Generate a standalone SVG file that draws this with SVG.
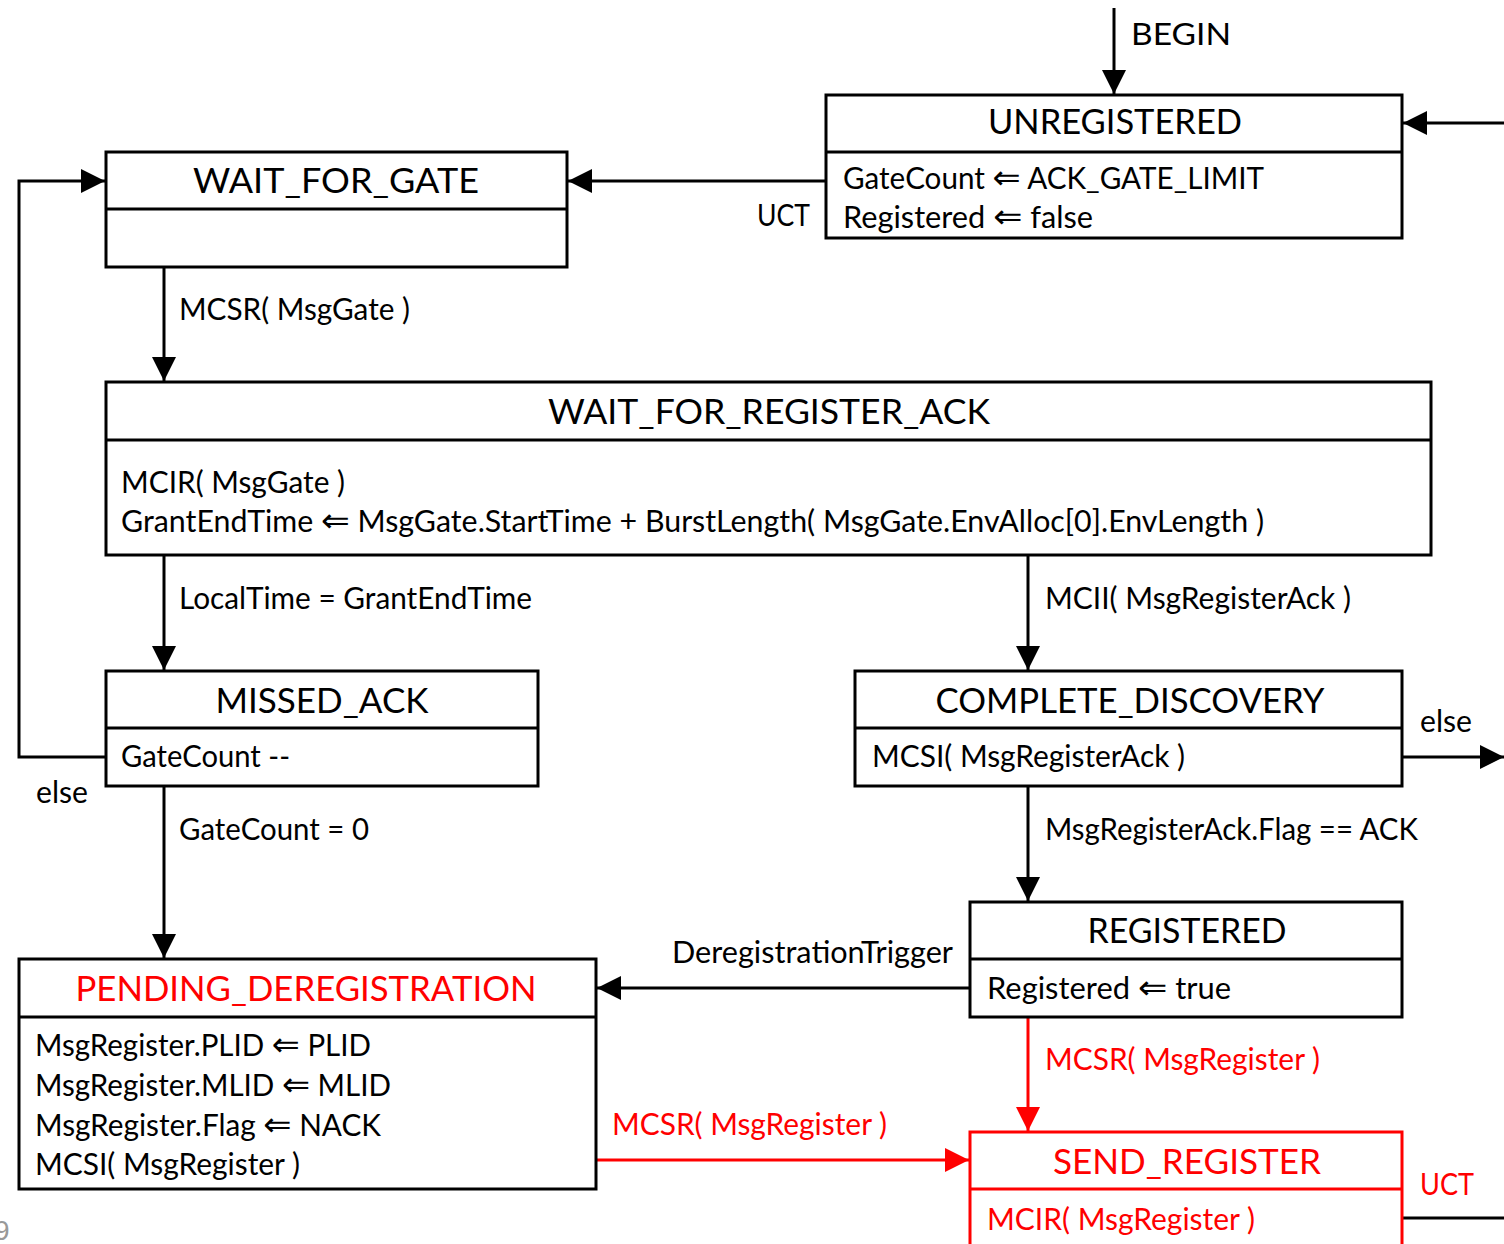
<svg xmlns="http://www.w3.org/2000/svg" width="1504" height="1244" viewBox="0 0 1504 1244">
<style>
  text { font-family: Lato, "Open Sans", "DejaVu Sans", sans-serif; fill: #000; }
  .t { font-size: 34px; text-anchor: middle; }
  .b { font-size: 30px; }
  .ar { font-family: "DejaVu Sans", sans-serif; font-size: 34px; }
  .red { fill: #ff0000; }
  .box { fill: #fff; stroke: #000; stroke-width: 3; }
  .rbox { fill: #fff; stroke: #ff0000; stroke-width: 3; }
  .div { stroke: #000; stroke-width: 3; }
  .rdiv { stroke: #ff0000; stroke-width: 3; }
  .c { fill: none; stroke: #000; stroke-width: 3; }
  .rc { fill: none; stroke: #ff0000; stroke-width: 3; }
</style>
<defs>
  <marker id="ah" viewBox="0 0 24 24" refX="24" refY="12" markerWidth="24" markerHeight="24" markerUnits="userSpaceOnUse" orient="auto">
    <path d="M0,0 L24,12 L0,24 Z" fill="#000"/>
  </marker>
  <marker id="rah" viewBox="0 0 24 24" refX="24" refY="12" markerWidth="24" markerHeight="24" markerUnits="userSpaceOnUse" orient="auto">
    <path d="M0,0 L24,12 L0,24 Z" fill="#ff0000"/>
  </marker>
</defs>
<rect width="1504" height="1244" fill="#fff"/>

<g id="connectors">
  <path class="c" d="M1114,8 V94" marker-end="url(#ah)"/>
  <text class="b" x="1131" y="45" textLength="100" lengthAdjust="spacingAndGlyphs">BEGIN</text>
  <path class="c" d="M1504,123 H1403" marker-end="url(#ah)"/>
  <path class="c" d="M826,181 H568" marker-end="url(#ah)"/>
  <text class="b" x="757" y="226" textLength="53" lengthAdjust="spacingAndGlyphs">UCT</text>
  <path class="c" d="M164,267 V381" marker-end="url(#ah)"/>
  <text class="b" x="179" y="320" textLength="231" lengthAdjust="spacingAndGlyphs">MCSR( MsgGate )</text>
  <path class="c" d="M164,555 V670" marker-end="url(#ah)"/>
  <text class="b" x="179" y="609" textLength="353" lengthAdjust="spacingAndGlyphs">LocalTime = GrantEndTime</text>
  <path class="c" d="M1028,555 V670" marker-end="url(#ah)"/>
  <text class="b" x="1045" y="609" textLength="306" lengthAdjust="spacingAndGlyphs">MCII( MsgRegisterAck )</text>
  <path class="c" d="M106,757 H19 V181 H105" marker-end="url(#ah)"/>
  <text class="b" x="36" y="803" textLength="52" lengthAdjust="spacingAndGlyphs">else</text>
  <path class="c" d="M164,786 V958" marker-end="url(#ah)"/>
  <text class="b" x="179" y="840" textLength="190" lengthAdjust="spacingAndGlyphs">GateCount = 0</text>
  <path class="c" d="M1402,757 H1504" marker-end="url(#ah)"/>
  <text class="b" x="1420" y="732" textLength="52" lengthAdjust="spacingAndGlyphs">else</text>
  <path class="c" d="M1028,786 V901" marker-end="url(#ah)"/>
  <text class="b" x="1045" y="840" textLength="373" lengthAdjust="spacingAndGlyphs">MsgRegisterAck.Flag == ACK</text>
  <path class="c" d="M970,988 H597" marker-end="url(#ah)"/>
  <text class="b" x="672" y="963" textLength="281" lengthAdjust="spacingAndGlyphs">DeregistrationTrigger</text>
  <path class="rc" d="M1028,1017 V1131" marker-end="url(#rah)"/>
  <text class="b red" x="1045" y="1070" textLength="275" lengthAdjust="spacingAndGlyphs">MCSR( MsgRegister )</text>
  <path class="rc" d="M596,1160 H969" marker-end="url(#rah)"/>
  <text class="b red" x="612" y="1135" textLength="275" lengthAdjust="spacingAndGlyphs">MCSR( MsgRegister )</text>
  <path class="c" d="M1402,1218 H1504"/>
  <text class="b red" x="1420" y="1195" textLength="54" lengthAdjust="spacingAndGlyphs">UCT</text>
</g>

<g id="UNREGISTERED">
  <rect class="box" x="826" y="95" width="576" height="143"/>
  <line class="div" x1="826" y1="152" x2="1402" y2="152"/>
  <text class="t" x="1115" y="134" textLength="254" lengthAdjust="spacingAndGlyphs">UNREGISTERED</text>
  <text class="b" x="843" y="189" textLength="421" lengthAdjust="spacingAndGlyphs">GateCount <tspan class="ar">⇐</tspan> ACK_GATE_LIMIT</text>
  <text class="b" x="843" y="228" textLength="250" lengthAdjust="spacingAndGlyphs">Registered <tspan class="ar">⇐</tspan> false</text>
</g>

<g id="WAIT_FOR_GATE">
  <rect class="box" x="106" y="152" width="461" height="115"/>
  <line class="div" x1="106" y1="209" x2="567" y2="209"/>
  <text class="t" x="336" y="193" textLength="286" lengthAdjust="spacingAndGlyphs">WAIT_FOR_GATE</text>
</g>

<g id="WAIT_FOR_REGISTER_ACK">
  <rect class="box" x="106" y="382" width="1325" height="173"/>
  <line class="div" x1="106" y1="440" x2="1431" y2="440"/>
  <text class="t" x="769" y="424" textLength="442" lengthAdjust="spacingAndGlyphs">WAIT_FOR_REGISTER_ACK</text>
  <text class="b" x="121" y="493" textLength="224" lengthAdjust="spacingAndGlyphs">MCIR( MsgGate )</text>
  <text class="b" x="121" y="532" textLength="1143" lengthAdjust="spacingAndGlyphs">GrantEndTime <tspan class="ar">⇐</tspan> MsgGate.StartTime + BurstLength( MsgGate.EnvAlloc[0].EnvLength )</text>
</g>

<g id="MISSED_ACK">
  <rect class="box" x="106" y="671" width="432" height="115"/>
  <line class="div" x1="106" y1="728" x2="538" y2="728"/>
  <text class="t" x="322" y="713" textLength="213" lengthAdjust="spacingAndGlyphs">MISSED_ACK</text>
  <text class="b" x="121" y="767" textLength="169" lengthAdjust="spacingAndGlyphs">GateCount --</text>
</g>

<g id="COMPLETE_DISCOVERY">
  <rect class="box" x="855" y="671" width="547" height="115"/>
  <line class="div" x1="855" y1="728" x2="1402" y2="728"/>
  <text class="t" x="1130" y="713" textLength="389" lengthAdjust="spacingAndGlyphs">COMPLETE_DISCOVERY</text>
  <text class="b" x="872" y="767" textLength="313" lengthAdjust="spacingAndGlyphs">MCSI( MsgRegisterAck )</text>
</g>

<g id="REGISTERED">
  <rect class="box" x="970" y="902" width="432" height="115"/>
  <line class="div" x1="970" y1="959" x2="1402" y2="959"/>
  <text class="t" x="1187" y="943" textLength="199" lengthAdjust="spacingAndGlyphs">REGISTERED</text>
  <text class="b" x="987" y="999" textLength="244" lengthAdjust="spacingAndGlyphs">Registered <tspan class="ar">⇐</tspan> true</text>
</g>

<g id="PENDING_DEREGISTRATION">
  <rect class="box" x="19" y="959" width="577" height="230"/>
  <line class="div" x1="19" y1="1017" x2="596" y2="1017"/>
  <text class="t red" x="306" y="1001" textLength="461" lengthAdjust="spacingAndGlyphs">PENDING_DEREGISTRATION</text>
  <text class="b" x="35" y="1056" textLength="336" lengthAdjust="spacingAndGlyphs">MsgRegister.PLID <tspan class="ar">⇐</tspan> PLID</text>
  <text class="b" x="35" y="1096" textLength="356" lengthAdjust="spacingAndGlyphs">MsgRegister.MLID <tspan class="ar">⇐</tspan> MLID</text>
  <text class="b" x="35" y="1136" textLength="346" lengthAdjust="spacingAndGlyphs">MsgRegister.Flag <tspan class="ar">⇐</tspan> NACK</text>
  <text class="b" x="35" y="1175" textLength="265" lengthAdjust="spacingAndGlyphs">MCSI( MsgRegister )</text>
</g>

<g id="SEND_REGISTER">
  <rect class="rbox" x="970" y="1132" width="432" height="130"/>
  <line class="rdiv" x1="970" y1="1189" x2="1402" y2="1189"/>
  <text class="t red" x="1187" y="1174" textLength="268" lengthAdjust="spacingAndGlyphs">SEND_REGISTER</text>
  <text class="b red" x="987" y="1230" textLength="268" lengthAdjust="spacingAndGlyphs">MCIR( MsgRegister )</text>
</g>

<text x="-6" y="1240" style="font-family:'Liberation Sans',sans-serif; font-size:28px; fill:#999">9</text>
</svg>
